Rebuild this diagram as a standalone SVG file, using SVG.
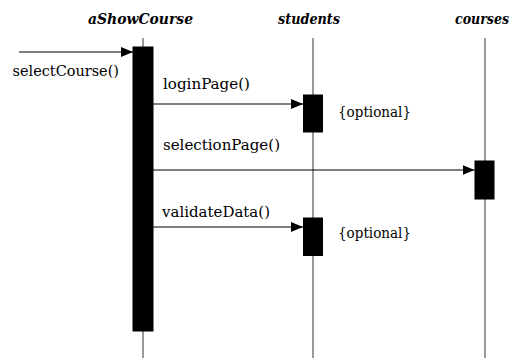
<svg xmlns="http://www.w3.org/2000/svg" width="512" height="358" viewBox="0 0 512 358">
<style>
.title{font-family:'DejaVu Serif',serif;font-weight:bold;font-style:italic;font-size:14px;fill:#000}
.lbl{font-family:'DejaVu Serif',serif;font-size:15.5px;fill:#000}
.life{stroke:#555;stroke-width:1.2;fill:none}
.bar{fill:#000;stroke:#000;stroke-width:1}
.msg{stroke:#000;stroke-width:1.2;fill:none}
</style>
<defs>
<marker id="ah" markerUnits="userSpaceOnUse" markerWidth="12" markerHeight="10" refX="12" refY="5" orient="auto">
<path d="M0,0 L12,5 L0,10 z" fill="#000"/>
</marker>
</defs>
<g id="aShowCourse">
<text class="title" x="88" y="24" textLength="105" lengthAdjust="spacingAndGlyphs">aShowCourse</text>
<line class="life" x1="143" y1="38" x2="143" y2="47"/>
<line class="life" x1="143" y1="331" x2="143" y2="358"/>
<rect class="bar" x="133" y="47" width="20" height="284"/>
</g>
<g id="students">
<text class="title" x="278" y="24" textLength="62" lengthAdjust="spacingAndGlyphs">students</text>
<line class="life" x1="313" y1="38" x2="313" y2="358"/>
<rect class="bar" x="303.5" y="95" width="19" height="37"/>
<rect class="bar" x="303.5" y="218" width="19" height="37.5"/>
<text class="lbl" x="338" y="117" textLength="73" lengthAdjust="spacingAndGlyphs">{optional}</text>
<text class="lbl" x="338" y="238" textLength="73" lengthAdjust="spacingAndGlyphs">{optional}</text>
</g>
<g id="courses">
<text class="title" x="455" y="24" textLength="54" lengthAdjust="spacingAndGlyphs">courses</text>
<line class="life" x1="485" y1="38" x2="485" y2="358"/>
<rect class="bar" x="475" y="161" width="19" height="38"/>
</g>
<g id="connectors">
<line class="msg" x1="19" y1="52" x2="133" y2="52" marker-end="url(#ah)"/>
<text class="lbl" x="12.5" y="76" textLength="106.5" lengthAdjust="spacingAndGlyphs">selectCourse()</text>
<line class="msg" x1="153" y1="104" x2="303" y2="104" marker-end="url(#ah)"/>
<text class="lbl" x="163" y="89" textLength="87" lengthAdjust="spacingAndGlyphs">loginPage()</text>
<line class="msg" x1="153" y1="170" x2="474.5" y2="170" marker-end="url(#ah)"/>
<text class="lbl" x="163" y="150" textLength="117" lengthAdjust="spacingAndGlyphs">selectionPage()</text>
<line class="msg" x1="153" y1="227" x2="303" y2="227" marker-end="url(#ah)"/>
<text class="lbl" x="162" y="217" textLength="108" lengthAdjust="spacingAndGlyphs">validateData()</text>
</g>
</svg>
